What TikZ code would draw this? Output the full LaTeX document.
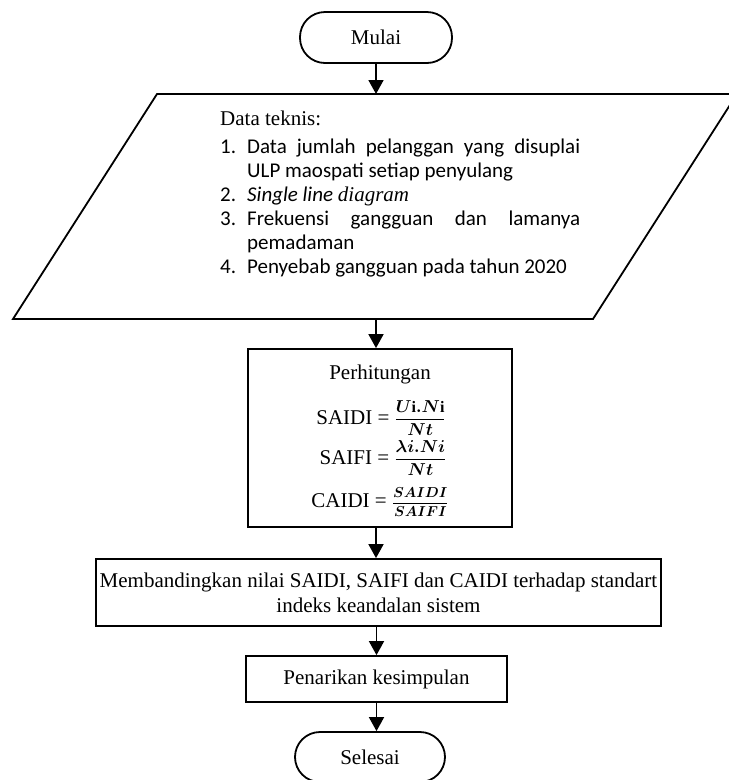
\documentclass[tikz,border=0pt]{standalone}
\usepackage{amsmath}
\usepackage{fontspec}
\usepackage{bm}
\setmainfont{Liberation Serif}
\newfontfamily\calibri{Carlito}
\usetikzlibrary{arrows.meta}

\tikzset{
  line/.style={line width=1.8pt},
  arr/.style={line, -{Triangle[length=14pt,width=15pt]}},
  txt/.style={font=\fontsize{21}{25}\selectfont},
  term/.style={line, draw, txt, rounded corners=25pt},
  proc/.style={line, draw, txt, align=center},
}
\newcommand{\litem}[2]{\par\hangindent=27pt\hangafter=1\noindent\makebox[27pt][l]{#1}#2}
\newcommand{\rumus}[3][16]{{\fontsize{#1}{#1}\selectfont$\dfrac{\bm{#2}}{\bm{#3}}$}}

\begin{document}
\begin{tikzpicture}[x=1pt,y=-1pt]
  \useasboundingbox (0,0) rectangle (729,780);

  \node (mulai) at (376,37.5) [term, minimum width=152pt, minimum height=51pt]{Mulai};

  % input data (parallelogram)
  \draw[line] (13,319) -- (157,94) -- (737,94) -- (593,319) -- cycle;
  \coordinate (paratop) at (376,94);
  \coordinate (parabot) at (376,319);
  \node (teknis) at (220,111) [anchor=north west, inner sep=0pt, text width=360pt, align=justify,
    font=\fontsize{21}{24}\selectfont]{%
    \hyphenpenalty=10000
    Data teknis:\par\vspace{4pt}
    \calibri
    \litem{1.}{Data jumlah pelanggan yang disuplai\linebreak ULP maospati setiap penyulang}
    \litem{2.}{\textit{Single line} {\rmfamily\itshape diagram}}
    \litem{3.}{Frekuensi gangguan dan lamanya\linebreak pemadaman}
    \litem{4.}{Penyebab gangguan pada tahun 2020}\par};

  \node (hitung) at (380,438) [proc, minimum width=264pt, minimum height=178pt]{};
  \node (judul) at (380,379) [txt, anchor=base]{Perhitungan};
  \node (saidi) at (381,424) [txt, anchor=base]{SAIDI = \rumus{U\mathrm{i}.N\mathrm{i}}{Nt}};
  \node (saifi) at (383,464) [txt, anchor=base]{SAIFI = \rumus{\lambda i.Ni}{Nt}};
  \node (caidi) at (380,507) [txt, anchor=base]{CAIDI = \rumus[15]{SAIDI}{SAIFI}};

  \node (banding) at (378.5,592.5) [proc, minimum width=563pt, minimum height=67pt]
    {Membandingkan nilai SAIDI, SAIFI dan CAIDI terhadap standart\\indeks keandalan sistem};

  \node (penarikan) at (376.5,679) [proc, minimum width=261pt, minimum height=46pt]{Penarikan kesimpulan};

  \node (selesai) at (370,757) [term, minimum width=150pt, minimum height=50pt]{Selesai};

  \draw[arr] (mulai) -- (paratop);
  \draw[arr] (parabot) -- (parabot |- hitung.north);
  \draw[arr] (hitung.south -| parabot) -- (parabot |- banding.north);
  \draw[arr] (banding.south -| penarikan) -- (penarikan);
  \draw[arr] (penarikan.south) -- (penarikan.south |- selesai.north);

\end{tikzpicture}
\end{document}
